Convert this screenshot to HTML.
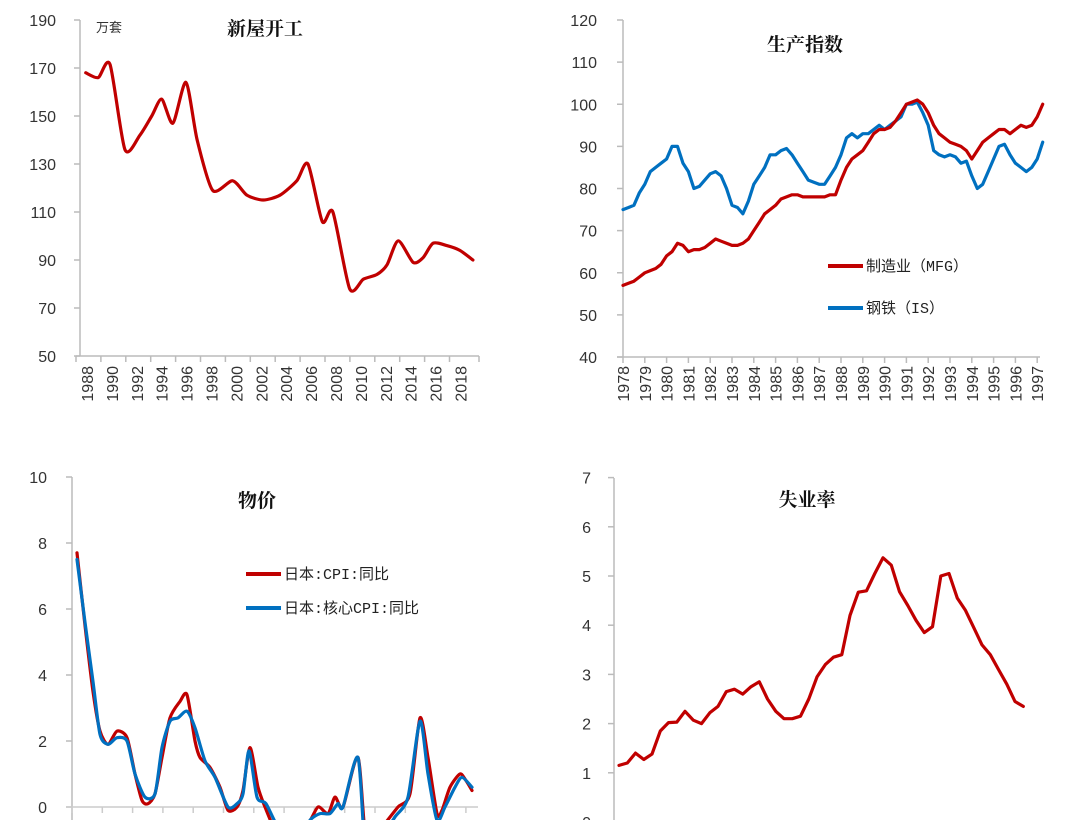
<!DOCTYPE html>
<html><head><meta charset="utf-8"><style>
body{margin:0;background:#fff;width:1080px;height:820px;overflow:hidden}
svg{display:block}
.tk{font-family:"Liberation Sans","Noto Sans CJK SC",sans-serif;font-size:16px;fill:#333}
.tt{font-family:"Liberation Serif","Noto Serif CJK SC",serif;font-size:19px;font-weight:bold;fill:#111}
.lg{font-family:"Liberation Mono","Noto Sans CJK SC",monospace;font-size:15px;fill:#222}
</style></head><body>
<svg id="s" width="1080" height="820" viewBox="0 0 1080 820">
<defs>
<clipPath id="c3"><rect x="72" y="470" width="420" height="350"/></clipPath>
<clipPath id="c4"><rect x="614" y="470" width="440" height="350"/></clipPath>
</defs>
</svg>
<script>
// ---- Chart 1: housing starts ----
const c1Years=[1988.3,1989.3,1990.25,1991.45,1992.65,1993.6,1994.4,1995.3,1996.35,1997.25,1998.5,2000.1,2001.25,2002.55,2003.9,2005.25,2006.15,2007.3,2008.15,2009.5,2010.6,2011.7,2012.5,2013.4,2014.6,2015.4,2016.2,2017.3,2018.35,2019.4];
const c1Vals=[168,166,171.5,136,142,150,157,147,164,140,119,123,117,115,117,123,130,106,110,78,82,84,88,98,89,91,97,96,94,90];
const c1Ticks=[50,70,90,110,130,150,170,190];
const c1XLabels=[1988,1990,1992,1994,1996,1998,2000,2002,2004,2006,2008,2010,2012,2014,2016,2018];
// ---- Chart 2: production index (quarterly from 1978) ----
const c2Start=1978;
const c2Mfg=[57,57.5,58,59,60,60.5,61,62,64,65,67,66.5,65,65.5,65.5,66,67,68,67.5,67,66.5,66.5,67,68,70,72,74,75,76,77.5,78,78.5,78.5,78,78,78,78,78,78.5,78.5,82,85,87,88,89,91,93,94,94,94.5,96,98,100,100.5,101,100,98,95,93,92,91,90.5,90,89,87,89,91,92,93,94,94,93,94,95,94.5,95,97,100];
const c2Is=[75,75.5,76,79,81,84,85,86,87,90,90,86,84,80,80.5,82,83.5,84,83,80,76,75.5,74,77,81,83,85,88,88,89,89.5,88,86,84,82,81.5,81,81,83,85,88,92,93,92,93,93,94,95,94,95,96,97,100,100,100.5,98,95,89,88,87.5,88,87.5,86,86.5,83,80,81,84,87,90,90.5,88,86,85,84,85,87,91];
const c2Ticks=[40,50,60,70,80,90,100,110,120];
const c2XLabels=[1978,1979,1980,1981,1982,1983,1984,1985,1986,1987,1988,1989,1990,1991,1992,1993,1994,1995,1996,1997];
// ---- Chart 3: CPI (time index) ----
const c3T=[0,2,4,5.75,7.75,10,12.5,14.5,16.25,17.75,19.5,21.25,23.25,25.75,27.5,29.5,30.75,33.25,35.75,37.75,40,41.5,43.25,45.25,47,49.5,52,57.75,60.25,62.75,64.5,66.5,70.25,72.5,77,80.25,83.25,85.75,87.75,90,91.25,93.25,95.75,97.25,98.75];
const c3Cpi=[7.7,5.5,3.5,2.3,1.9,2.3,2.1,1.0,0.2,0.1,0.4,1.5,2.7,3.2,3.4,2.0,1.5,1.2,0.6,-0.1,0.0,0.5,1.8,0.6,0.0,-0.7,-1.0,-0.5,0.0,-0.2,0.3,0.0,1.5,-1.2,-0.5,0.0,0.4,2.7,1.5,-0.2,-0.1,0.6,1.0,0.8,0.5];
const c3CoreT=[0,2,4,5.75,7.75,10,12.5,14.5,17,19.5,21.25,23.25,25.25,27.5,29.5,32,34.5,37.75,40,41.5,43,45,47.25,50.75,55.75,58.25,60.75,63.25,65.25,66.5,70.25,72.25,75.75,79.5,82.75,85.75,87.75,90,92,94.5,96.25,98.75];
const c3Core=[7.5,5.6,3.8,2.2,1.9,2.1,2.0,1.0,0.3,0.4,1.8,2.6,2.7,2.9,2.4,1.4,0.9,0.0,0.1,0.4,1.7,0.3,0.1,-0.7,-1.0,-0.4,-0.2,-0.2,0.1,0.0,1.5,-1.5,-1.0,-0.3,0.3,2.6,1.0,-0.4,0.0,0.6,0.9,0.6];
const c3Ticks=[0,2,4,6,8,10];
// ---- Chart 4: unemployment ----
const c4Vals=[1.15,1.2,1.4,1.27,1.38,1.85,2.02,2.03,2.25,2.07,2.0,2.22,2.35,2.65,2.7,2.6,2.75,2.85,2.5,2.25,2.1,2.1,2.15,2.5,2.95,3.2,3.35,3.4,4.2,4.67,4.7,5.05,5.37,5.22,4.68,4.4,4.1,3.85,3.97,5.0,5.05,4.55,4.3,3.95,3.6,3.4,3.1,2.8,2.45,2.35];
const c4Ticks=[0,1,2,3,4,5,6,7];

const S=document.getElementById('s');
const NS='http://www.w3.org/2000/svg';
function el(tag,attrs,parent){const e=document.createElementNS(NS,tag);for(const k in attrs)e.setAttribute(k,attrs[k]);(parent||S).appendChild(e);return e;}
function smooth(pts){let d='M'+pts[0][0]+','+pts[0][1];for(let i=0;i<pts.length-1;i++){const p0=pts[i-1]||pts[i],p1=pts[i],p2=pts[i+1],p3=pts[i+2]||p2;const k=8;const c1x=p1[0]+(p2[0]-p0[0])/k,c1y=p1[1]+(p2[1]-p0[1])/k,c2x=p2[0]-(p3[0]-p1[0])/k,c2y=p2[1]-(p3[1]-p1[1])/k;d+=' C'+c1x+','+c1y+' '+c2x+','+c2y+' '+p2[0]+','+p2[1];}return d;}
function poly(pts){return 'M'+pts.map(p=>p[0].toFixed(1)+','+p[1].toFixed(1)).join(' L');}
function yAxis(x,y0,y1,ticks,yf,lx){
  const a=el('line',{x1:x,y1:y0,x2:x,y2:y1,stroke:'#bbb','stroke-width':1.5});
  
  
  ticks.forEach(v=>{const y=yf(v);el('line',{x1:x-6,y1:y,x2:x,y2:y,stroke:'#bbb','stroke-width':1.5});
    const t=el('text',{x:lx,y:y+6,'text-anchor':'end',class:'tk'});t.textContent=v;
    
    });
}
function title(x,y,txt,name){const t=el('text',{x:x,y:y,'text-anchor':'middle',class:'tt'});t.textContent=txt;
  
  }
function series(d,color,name,clip){const p=el('path',{d:d,fill:'none',stroke:color,'stroke-width':3.2,'stroke-linejoin':'round','stroke-linecap':'round'});if(clip)p.setAttribute('clip-path','url(#'+clip+')');
  
  }
function legend(x,y,color,txt,name){el('line',{x1:x,y1:y,x2:x+35,y2:y,stroke:color,'stroke-width':4});const t=el('text',{x:x+38,y:y+5,class:'lg'});t.textContent=txt;
  
  }

// Chart 1
{const y=v=>356-(v-50)*2.4,x=yr=>82+(yr-1988)*12.45;
 yAxis(80,20,356,c1Ticks,y,56);
 el('line',{x1:76,y1:356,x2:479,y2:356,stroke:'#bbb','stroke-width':1.5});
 c1XLabels.forEach(yr=>{const tx=x(yr)-6;el('line',{x1:tx,y1:356,x2:tx,y2:362,stroke:'#bbb','stroke-width':1.5});
   const t=el('text',{x:0,y:0,'text-anchor':'end',class:'tk',transform:'translate('+(x(yr)+11)+',366) rotate(-90)'});t.textContent=yr;
   
   });
 el('line',{x1:479,y1:356,x2:479,y2:362,stroke:'#bbb','stroke-width':1.5});
 title(265,35,'新屋开工','housing-starts-title');
 const u=el('text',{x:96,y:32,class:'tk'});u.textContent='万套';u.style.fontSize='13px';
 
 
 series(smooth(c1Years.map((yr,i)=>[x(yr),y(c1Vals[i])])),'#c00000','housing-starts-line');}

// Chart 2
{const y=v=>357-(v-40)*4.2125,x=yr=>623+(yr-1978)*21.8;
 yAxis(623,20,357,c2Ticks,y,597);
 el('line',{x1:617,y1:357,x2:1040,y2:357,stroke:'#bbb','stroke-width':1.5});
 c2XLabels.forEach(yr=>{const tx=x(yr);el('line',{x1:tx,y1:357,x2:tx,y2:363,stroke:'#bbb','stroke-width':1.5});
   const t=el('text',{x:0,y:0,'text-anchor':'end',class:'tk',transform:'translate('+(tx+6)+',366) rotate(-90)'});t.textContent=yr;
   
   });
 title(805,51,'生产指数','production-index-title');
 series(poly(c2Is.map((v,i)=>[x(c2Start+i*0.25),y(v)])),'#0070c0','steel-line');
 series(poly(c2Mfg.map((v,i)=>[x(c2Start+i*0.25),y(v)])),'#c00000','manufacturing-line');
 legend(828,266,'#c00000','制造业（MFG）','legend-manufacturing');
 legend(828,308,'#0070c0','钢铁（IS）','legend-steel');}

// Chart 3
{const y=v=>807-v*33,x=t=>77+t*4;
 yAxis(72,477,820,c3Ticks,y,47);
 el('line',{x1:66,y1:807,x2:478,y2:807,stroke:'#ccc','stroke-width':1.5});
 for(let k=0;k<14;k++){const tx=72+k*30.3;el('line',{x1:tx,y1:807,x2:tx,y2:813,stroke:'#ccc','stroke-width':1.5});}
 title(257,507,'物价','cpi-title');
 series(smooth(c3T.map((t,i)=>[x(t),y(c3Cpi[i])])),'#c00000','cpi-line','c3');
 series(smooth(c3CoreT.map((t,i)=>[x(t),y(c3Core[i])])),'#0070c0','core-cpi-line','c3');
 legend(246,574,'#c00000','日本:CPI:同比','legend-cpi');
 legend(246,608,'#0070c0','日本:核心CPI:同比','legend-core-cpi');}

// Chart 4
{const y=v=>822-v*49.2,x=i=>619+i*8.25;
 yAxis(614,478,820,c4Ticks,y,591);
 title(807,506,'失业率','unemployment-title');
 series(poly(c4Vals.map((v,i)=>[x(i),y(v)])),'#c00000','unemployment-line','c4');}
</script>
</body></html>
